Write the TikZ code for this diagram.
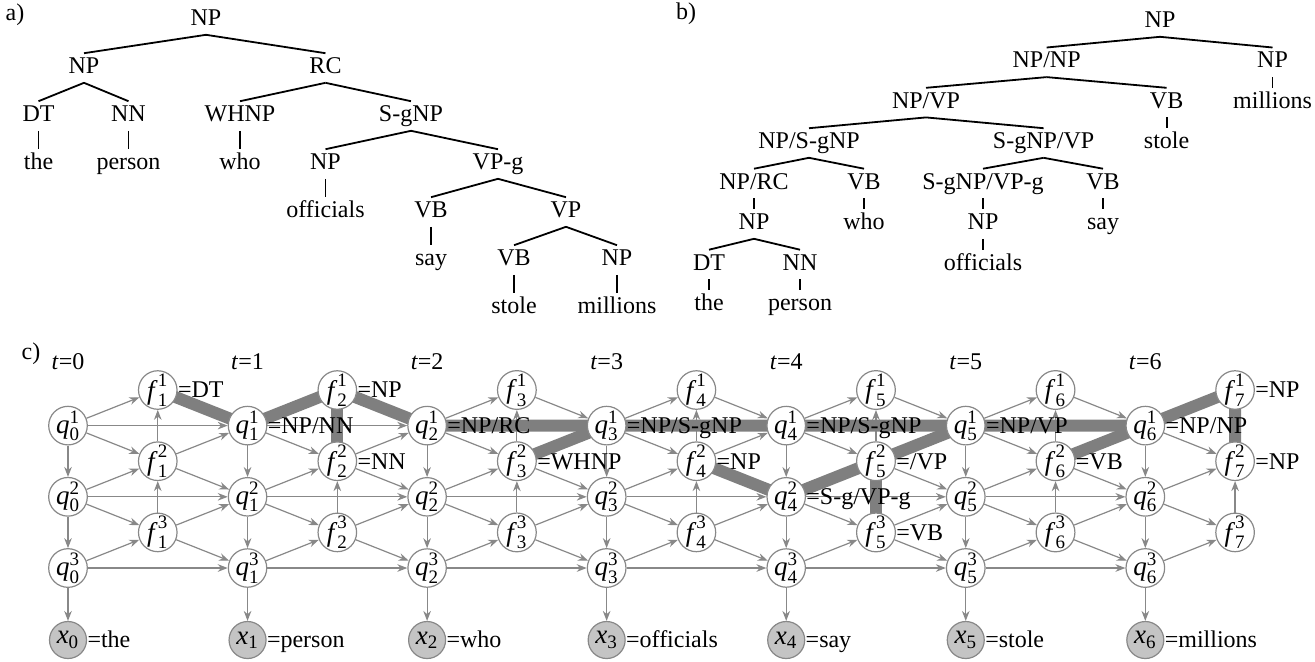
\documentclass[tikz,border=0pt]{standalone}
\usepackage{fontspec}
\setmainfont{Liberation Serif}
\usetikzlibrary{arrows.meta}
\pgfdeclarelayer{bg}
\pgfsetlayers{bg,main}
\definecolor{edgegray}{HTML}{888888}
\definecolor{thickgray}{HTML}{7F7F7F}
\definecolor{xfill}{HTML}{C4C4C4}
\newcommand\scr[1]{\hbox{\fontsize{9.5}{10}\selectfont #1}}
\newcommand\nv[3]{$\hbox{\itshape #1\/}^{\scr{#3}}_{\scr{#2}}$}
\newcommand\xv[1]{$\hbox{\itshape x}_{\scr{#1}}$}
\begin{document}
\begin{tikzpicture}[x=0.5pt,y=-0.5pt,font=\fontsize{12}{14}\selectfont,
  tn/.style={inner xsep=1pt,inner ysep=1.8pt,text height=8.2pt,text depth=2.6pt},
  br/.style={line width=0.9pt},
  st/.style={circle,draw=edgegray,fill=white,line width=0.6pt,minimum size=18.5pt,inner sep=0pt,font=\fontsize{13.5}{15}\selectfont},
  xs/.style={st,fill=xfill},
  ed/.style={draw=edgegray,line width=0.6pt,-{Stealth[length=5pt,width=3.8pt]}},
  thk/.style={draw=thickgray,line width=6pt},
  lab/.style={inner sep=0pt,anchor=west,text height=8.2pt,text depth=0.4pt},
  tag/.style={inner sep=0pt,text height=8.2pt,text depth=0.4pt}]
\useasboundingbox (0,0) rectangle (1315,661);

% ---------- a) ----------
\node[tag] (ta) at (15,13) {a)};
\node[tn] (a1) at (206,20) {NP};
\node[tn] (a2) at (84,68) {NP};
\node[tn] (a3) at (325.5,68) {RC};
\node[tn] (a4) at (38.5,116) {DT};
\node[tn] (a5) at (128.5,116) {NN};
\node[tn] (a6) at (240,116) {WHNP};
\node[tn] (a7) at (411,116) {S-gNP};
\node[tn] (a8) at (38.5,164) {the};
\node[tn] (a9) at (128.5,164) {person};
\node[tn] (a10) at (240,164) {who};
\node[tn] (a11) at (325.5,164) {NP};
\node[tn] (a12) at (498,164) {VP-g};
\node[tn] (a13) at (325.5,212) {officials};
\node[tn] (a14) at (431,212) {VB};
\node[tn] (a15) at (566,212) {VP};
\node[tn] (a16) at (431,260) {say};
\node[tn] (a17) at (514,260) {VB};
\node[tn] (a18) at (617,260) {NP};
\node[tn] (a19) at (514,308) {stole};
\node[tn] (a20) at (617,308) {millions};
\foreach \u/\v in {a1/a2,a1/a3,a2/a4,a2/a5,a3/a6,a3/a7,a4/a8,a5/a9,a6/a10,a7/a11,a7/a12,a11/a13,a12/a14,a12/a15,a14/a16,a15/a17,a15/a18,a17/a19,a18/a20}
  \draw[br] (\u.south) -- (\v.north);

% ---------- b) ----------
\node[tag] (tb) at (686,12) {b)};
\node[tn] (b1) at (1160,22) {NP};
\node[tn] (b2) at (1046.6,62.3) {NP/NP};
\node[tn] (b3) at (1272.5,62.3) {NP};
\node[tn] (b4) at (926,102.6) {NP/VP};
\node[tn] (b5) at (1166.6,102.6) {VB};
\node[tn] (b6) at (1272.5,102.6) {millions};
\node[tn] (b7) at (809,143) {NP/S-gNP};
\node[tn] (b8) at (1043.6,143) {S-gNP/VP};
\node[tn] (b9) at (1166.6,143) {stole};
\node[tn] (b10) at (754,183.5) {NP/RC};
\node[tn] (b11) at (864,183.5) {VB};
\node[tn] (b12) at (983,183.5) {S-gNP/VP-g};
\node[tn] (b13) at (1103,183.5) {VB};
\node[tn] (b14) at (754,224) {NP};
\node[tn] (b15) at (864,224) {who};
\node[tn] (b16) at (983,224) {NP};
\node[tn] (b17) at (1103,224) {say};
\node[tn] (b18) at (709,264.5) {DT};
\node[tn] (b19) at (800,264.5) {NN};
\node[tn] (b20) at (983,264.5) {officials};
\node[tn] (b21) at (709,304.5) {the};
\node[tn] (b22) at (800,304.5) {person};
\foreach \u/\v in {b1/b2,b1/b3,b2/b4,b2/b5,b3/b6,b4/b7,b4/b8,b5/b9,b7/b10,b7/b11,b8/b12,b8/b13,b10/b14,b11/b15,b12/b16,b13/b17,b14/b18,b14/b19,b16/b20,b18/b21,b19/b22}
  \draw[br] (\u.south) -- (\v.north);

% ---------- c) ----------
\node[tag] (tc) at (31,352) {c)};
\foreach \t in {0,...,6}{
  \pgfmathsetmacro\xx{68+179.55*\t}
  \node[tag] (t\t) at (\xx,362) {\textit{t}=\t};
  \node[st] (q\t1) at (\xx,425.6) {\nv{q}{\t}{1}};
  \node[st] (q\t2) at (\xx,496.8) {\nv{q}{\t}{2}};
  \node[st] (q\t3) at (\xx,568) {\nv{q}{\t}{3}};
  \node[xs] (x\t) at (\xx,640) {\xv{\t}};
}
\foreach \k in {1,...,7}{
  \pgfmathsetmacro\xx{68+179.55*\k-89.78}
  \node[st] (f\k1) at (\xx,390) {\nv{f}{\k}{1}};
  \node[st] (f\k2) at (\xx,461.2) {\nv{f}{\k}{2}};
  \node[st] (f\k3) at (\xx,532.4) {\nv{f}{\k}{3}};
}
% labels
\node[lab] (lf11) at (f11.east) {=DT};
\node[lab] (lq11) at (q11.east) {=NP/NN};
\node[lab] (lf21) at (f21.east) {=NP};
\node[lab] (lf22) at (f22.east) {=NN};
\node[lab] (lq21) at (q21.east) {=NP/RC};
\node[lab] (lf32) at (f32.east) {=WHNP};
\node[lab] (lq31) at (q31.east) {=NP/S-gNP};
\node[lab] (lf42) at (f42.east) {=NP};
\node[lab] (lq41) at (q41.east) {=NP/S-gNP};
\node[lab] (lq42) at (q42.east) {=S-g/VP-g};
\node[lab] (lf52) at (f52.east) {=/VP};
\node[lab] (lf53) at (f53.east) {=VB};
\node[lab] (lq51) at (q51.east) {=NP/VP};
\node[lab] (lf62) at (f62.east) {=VB};
\node[lab] (lq61) at (q61.east) {=NP/NP};
\node[lab] (lf71) at (f71.east) {=NP};
\node[lab] (lf72) at (f72.east) {=NP};
\node[lab] (lx0) at (x0.east) {=the};
\node[lab] (lx1) at (x1.east) {=person};
\node[lab] (lx2) at (x2.east) {=who};
\node[lab] (lx3) at (x3.east) {=officials};
\node[lab] (lx4) at (x4.east) {=say};
\node[lab] (lx5) at (x5.east) {=stole};
\node[lab] (lx6) at (x6.east) {=millions};

\begin{pgfonlayer}{bg}
\foreach \k in {1,...,7}{
  \pgfmathtruncatemacro\p{\k-1}
  \draw[ed] (q\p1) -- (f\k1);
  \draw[ed] (q\p1) -- (f\k2);
  \draw[ed] (q\p2) -- (f\k2);
  \draw[ed] (q\p2) -- (f\k3);
  \draw[ed] (q\p3) -- (f\k3);
  \draw[ed] (f\k3) -- (f\k2);
  \draw[ed] (f\k2) -- (f\k1);
}
\foreach \k in {1,...,6}{
  \pgfmathtruncatemacro\p{\k-1}
  \draw[ed] (f\k1) -- (q\k1);
  \draw[ed] (f\k2) -- (q\k1);
  \draw[ed] (f\k2) -- (q\k2);
  \draw[ed] (f\k3) -- (q\k2);
  \draw[ed] (f\k3) -- (q\k3);
  \draw[ed] (q\p1) -- (q\k1);
  \draw[ed] (q\p2) -- (q\k2);
  \draw[ed] (q\p3) -- (q\k3);
}
\foreach \t in {0,...,6}{
  \draw[ed] (q\t1) -- (q\t2);
  \draw[ed] (q\t2) -- (q\t3);
  \draw[ed] (q\t3) -- (x\t);
}
\draw[thk] (f11.center) -- (q11.center) -- (f21.center) -- (q21.center) -- (q31.center) -- (q41.center) -- (q51.center) -- (q61.center) -- (f71.center) -- (f72.center);
\draw[thk] (f21.center) -- (f22.center);
\draw[thk] (f32.center) -- (q31.center);
\draw[thk] (f42.center) -- (q42.center) -- (f52.center) -- (q51.center);
\draw[thk] (f52.center) -- (f53.center);
\draw[thk] (f62.center) -- (q61.center);
\end{pgfonlayer}
\end{tikzpicture}
\end{document}
